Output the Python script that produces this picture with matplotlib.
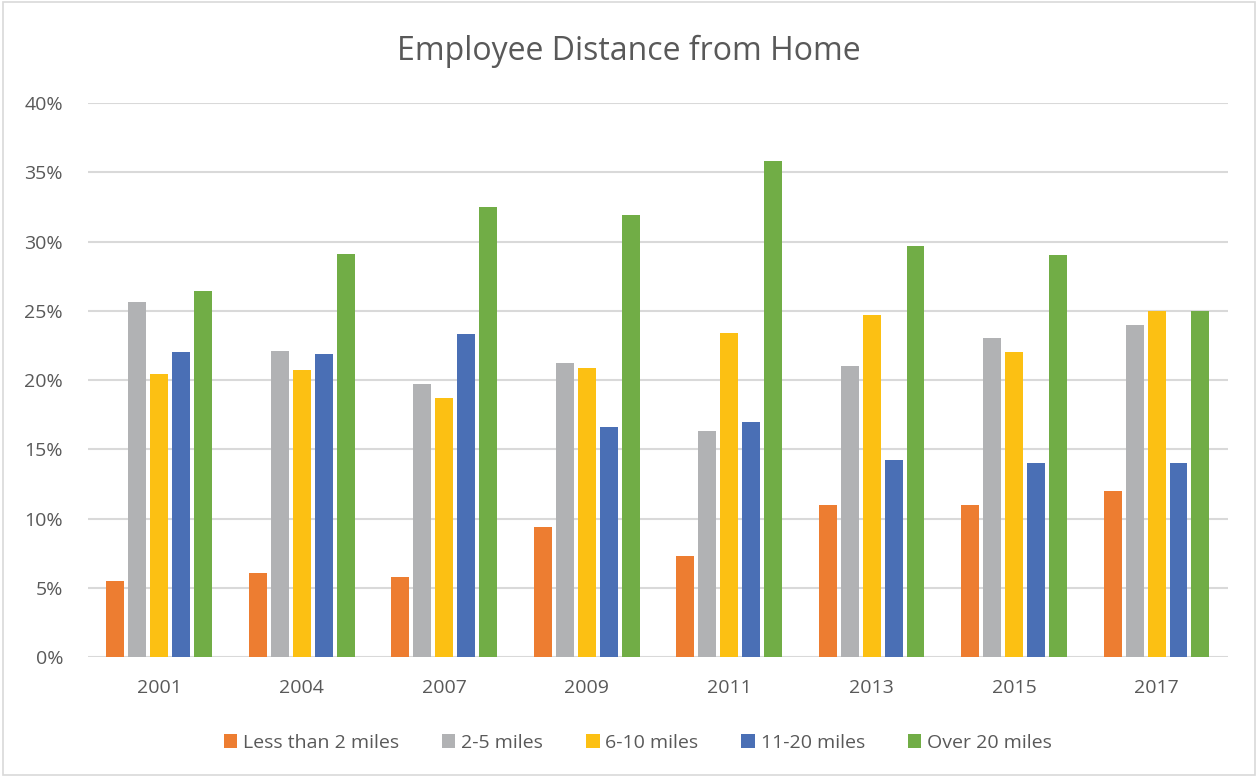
import numpy as np
import matplotlib.pyplot as plt
from matplotlib.patches import Rectangle
from matplotlib.ticker import PercentFormatter

plt.rcParams['font.family'] = ['Open Sans', 'DejaVu Sans']

years = ['2001', '2004', '2007', '2009', '2011', '2013', '2015', '2017']
series_names = ['Less than 2 miles', '2-5 miles', '6-10 miles', '11-20 miles', 'Over 20 miles']

less_than_2 = [5.5, 6.1, 5.8, 9.4, 7.3, 11.0, 11.0, 12.0]
miles_2_5 = [25.6, 22.1, 19.7, 21.2, 16.3, 21.0, 23.0, 24.0]
miles_6_10 = [20.4, 20.7, 18.7, 20.9, 23.4, 24.7, 22.0, 25.0]
miles_11_20 = [22.0, 21.9, 23.3, 16.6, 17.0, 14.2, 14.0, 14.0]
over_20 = [26.4, 29.1, 32.5, 31.9, 35.8, 29.7, 29.0, 25.0]

colors = ['#ED7D31', '#B1B2B4', '#FCC013', '#4A6FB5', '#71AD46']
text_color = '#595959'

fig = plt.figure(figsize=(12.58, 7.77), dpi=100)
ax = fig.add_axes([0.070, 0.1544, 0.906, 0.713])

x = np.arange(len(years))
pitch = 0.154
width = 0.126
all_series = [less_than_2, miles_2_5, miles_6_10, miles_11_20, over_20]
for i, (vals, name, c) in enumerate(zip(all_series, series_names, colors)):
    ax.bar(x + (i - 2) * pitch, vals, width=width, color=c, label=name, zorder=3)

ax.set_xlim(-0.5, len(years) - 0.5)
ax.set_ylim(0, 40)
ax.set_yticks(np.arange(0, 41, 5))
ax.yaxis.set_major_formatter(PercentFormatter(decimals=0))
ax.set_xticks(x)
ax.set_xticklabels(years)
ax.grid(axis='y', color='#D9D9D9', linewidth=1.5, zorder=0)
for s in ax.spines.values():
    s.set_visible(False)
ax.tick_params(length=0, labelsize=14, colors=text_color)
ax.tick_params(axis='x', pad=16)
ax.tick_params(axis='y', pad=18)

fig.suptitle('Employee Distance from Home', y=0.955, fontsize=23, color=text_color)

leg = fig.legend(loc='center', bbox_to_anchor=(0.507, 0.044), ncol=5, frameon=False,
                 fontsize=14, handlelength=0.7, handleheight=0.7, handletextpad=0.3,
                 columnspacing=2.2)
for t in leg.get_texts():
    t.set_color(text_color)

fig.patches.append(Rectangle((0.002, 0.003), 0.996, 0.994, transform=fig.transFigure,
                             fill=False, edgecolor='#D9D9D9', linewidth=1.2))

fig.savefig('out.png', dpi=100)
